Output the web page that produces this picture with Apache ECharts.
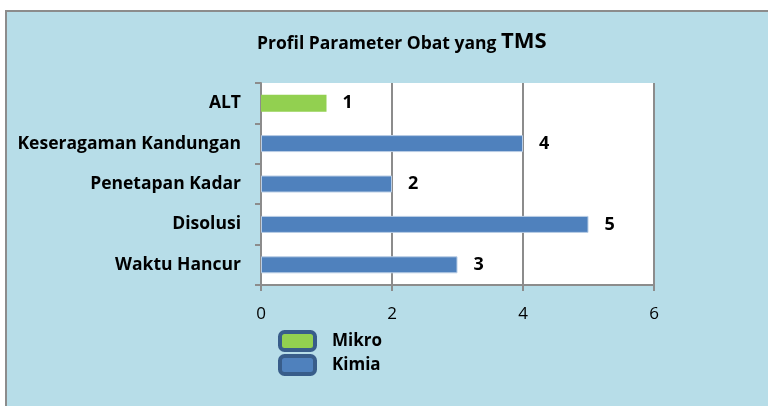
<!DOCTYPE html>
<html>
<head>
<meta charset="utf-8">
<script src="https://cdn.jsdelivr.net/npm/echarts@6/dist/echarts.min.js"></script>
<style>
  html, body { margin: 0; padding: 0; background: #fff; }
  #chart { width: 768px; height: 406px; }
</style>
</head>
<body>
<div id="chart"></div>
<script>
var categories = ["ALT", "Keseragaman Kandungan", "Penetapan Kadar", "Disolusi", "Waktu Hancur"];
var mikroValues = [1, "-", "-", "-", "-"];
var kimiaValues = ["-", 4, 2, 5, 3];
var xTicks = [0, 2, 4, 6];

var fontFamily = "'Open Sans', 'Noto Sans', sans-serif";
var chart = echarts.init(document.getElementById("chart"));

var labelStyle = {
  show: true,
  position: "right",
  distance: 16,
  color: "#000",
  fontWeight: "bold",
  fontSize: 18,
  fontFamily: fontFamily
};

var option = {
  backgroundColor: "#fff",
  animation: false,
  graphic: [
    {
      type: "rect",
      z: -10,
      shape: { x: 6, y: 11, width: 780, height: 420 },
      style: { fill: "#b7dde8", stroke: "#8c8c8c", lineWidth: 2 }
    }
  ],
  title: {
    text: "{a|Profil Parameter Obat yang }{b|TMS}",
    left: 252,
    top: 26,
    textStyle: {
      rich: {
        a: { fontSize: 17.5, fontWeight: "bold", color: "#000", fontFamily: fontFamily, verticalAlign: "bottom" },
        b: { fontSize: 22, fontWeight: "bold", color: "#000", fontFamily: fontFamily, verticalAlign: "bottom" }
      }
    }
  },
  legend: {
    orient: "vertical",
    left: 273,
    top: 325,
    itemWidth: 35,
    itemHeight: 18,
    itemGap: 2,
    textStyle: { fontSize: 17, fontWeight: "bold", color: "#000", fontFamily: fontFamily, padding: [0, 0, 0, 12] },
    data: [
      { name: "Mikro", icon: "roundRect", itemStyle: { borderColor: "#385d8a", borderWidth: 4 } },
      { name: "Kimia", icon: "roundRect", itemStyle: { borderColor: "#385d8a", borderWidth: 4 } }
    ]
  },
  grid: { left: 261, right: 114, top: 83, bottom: 121, show: true, backgroundColor: "#fff", borderWidth: 0 },
  xAxis: {
    type: "value",
    min: xTicks[0],
    max: xTicks[xTicks.length - 1],
    interval: 2,
    axisLine: { show: true, lineStyle: { color: "#8c8c8c", width: 2 } },
    axisTick: { show: true, length: 6, lineStyle: { color: "#8c8c8c", width: 2 } },
    splitLine: { show: true, lineStyle: { color: "#8c8c8c", width: 2 } },
    axisLabel: { color: "#000", fontSize: 17, fontFamily: fontFamily, margin: 21 }
  },
  yAxis: {
    type: "category",
    inverse: true,
    data: categories,
    axisLine: { show: true, lineStyle: { color: "#8c8c8c", width: 2 } },
    axisTick: { show: true, length: 6, inside: false, lineStyle: { color: "#8c8c8c", width: 2 } },
    axisLabel: { color: "#000", fontSize: 17.5, fontWeight: "bold", fontFamily: fontFamily, margin: 20 }
  },
  series: [
    {
      name: "Mikro",
      type: "bar",
      stack: "all",
      barWidth: 17,
      data: mikroValues,
      itemStyle: { color: "#92d050" },
      label: labelStyle
    },
    {
      name: "Kimia",
      type: "bar",
      stack: "all",
      barWidth: 17,
      data: kimiaValues,
      itemStyle: { color: "#4f81bd", borderColor: "#b9cde5", borderWidth: 1 },
      label: labelStyle
    }
  ]
};

chart.setOption(option);
</script>
</body>
</html>
